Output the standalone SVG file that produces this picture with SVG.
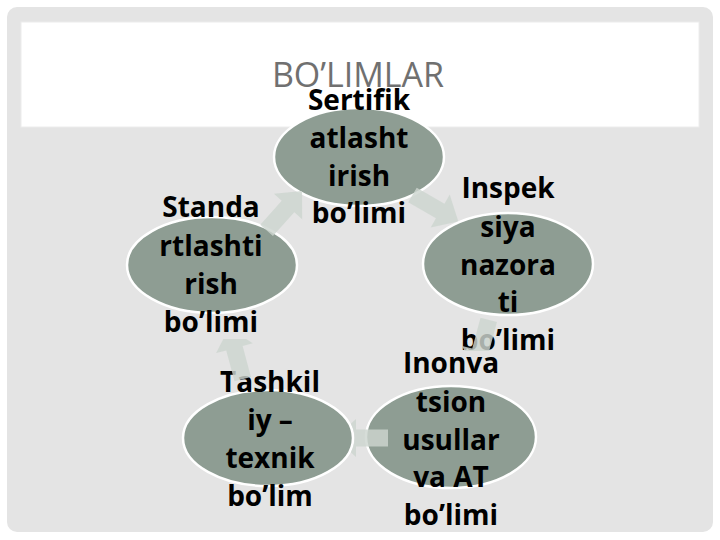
<svg xmlns="http://www.w3.org/2000/svg" width="720" height="540" viewBox="0 0 720 540">
<style>
.node{fill:#8e9d93;stroke:#ffffff;stroke-width:2.5}
.lbl{font-family:"Open Sans","Noto Sans","DejaVu Sans",sans-serif;font-weight:bold;font-size:28px;fill:#000000;text-anchor:middle}
.title{font-family:"Open Sans","Noto Sans","DejaVu Sans",sans-serif;font-size:34px;fill:#707070;text-anchor:middle}
.arr{fill:#cdd5d0;fill-opacity:0.82}
</style>
<defs>
<polygon id="arrowShape" points="-26,-8.5 6,-8.5 6,-19 27,0 6,19 6,8.5 -26,8.5"/>
<mask id="m1" maskUnits="userSpaceOnUse" x="0" y="0" width="720" height="540">
<rect x="0" y="0" width="720" height="540" fill="#fff"/>
<ellipse cx="508" cy="264" rx="86.5" ry="52.5" fill="#000"/>
</mask>
<mask id="m2" maskUnits="userSpaceOnUse" x="0" y="0" width="720" height="540">
<rect x="0" y="0" width="720" height="540" fill="#fff"/>
<ellipse cx="451" cy="437" rx="86.5" ry="52.5" fill="#000"/>
<rect x="402" y="351" width="98" height="26" fill="#000"/>
</mask>
<mask id="m3" maskUnits="userSpaceOnUse" x="0" y="0" width="720" height="540">
<rect x="0" y="0" width="720" height="540" fill="#fff"/>
<ellipse cx="268" cy="438" rx="86.5" ry="49.5" fill="#000"/>
</mask>
<mask id="m4" maskUnits="userSpaceOnUse" x="0" y="0" width="720" height="540">
<rect x="0" y="0" width="720" height="540" fill="#fff"/>
<ellipse cx="212" cy="265" rx="86.5" ry="49.5" fill="#000"/>
<rect x="162" y="311" width="100" height="28" fill="#000"/>
</mask>
</defs>

<rect x="0" y="0" width="720" height="540" fill="#ffffff"/>
<rect x="7" y="7" width="706" height="525" rx="10" fill="#e4e4e4"/>
<rect x="21" y="22" width="678" height="105" fill="#ffffff" stroke="#ececec" stroke-width="1"/>
<text class="title" x="358" y="87">BO’LIMLAR</text>

<g id="node-sertifikatlashtirish">
<ellipse class="node" cx="359" cy="157" rx="85" ry="49"/>
<text class="lbl" x="359" y="110">Sertifik</text>
<text class="lbl" x="359" y="148">atlasht</text>
<text class="lbl" x="359" y="186">irish</text>
<text class="lbl" x="359" y="223">bo’limi</text>
</g>

<g id="node-inspeksiya">
<ellipse class="node" cx="508" cy="264" rx="85" ry="51"/>
<text class="lbl" x="508" y="198">Inspek</text>
<text class="lbl" x="508" y="237">siya</text>
<text class="lbl" x="508" y="275">nazora</text>
<text class="lbl" x="508" y="312">ti</text>
<text class="lbl" x="508" y="350">bo’limi</text>
</g>

<g id="node-inonvatsion">
<ellipse class="node" cx="451" cy="437" rx="85" ry="51"/>
<text class="lbl" x="451" y="373">Inonva</text>
<text class="lbl" x="451" y="412">tsion</text>
<text class="lbl" x="451" y="450">usullar</text>
<text class="lbl" x="451" y="487">va AT</text>
<text class="lbl" x="451" y="525">bo’limi</text>
</g>

<g id="node-tashkiliy">
<ellipse class="node" cx="268" cy="438" rx="85" ry="48"/>
<text class="lbl" x="270" y="392">Tashkil</text>
<text class="lbl" x="270" y="430">iy –</text>
<text class="lbl" x="270" y="468">texnik</text>
<text class="lbl" x="270" y="506">bo’lim</text>
</g>

<g id="node-standartlashtirish">
<ellipse class="node" cx="212" cy="265" rx="85" ry="48"/>
<text class="lbl" x="211" y="217">Standa</text>
<text class="lbl" x="211" y="256">rtlashti</text>
<text class="lbl" x="211" y="294">rish</text>
<text class="lbl" x="211" y="332">bo’limi</text>
</g>

<g id="connectors">
<g mask="url(#m1)"><use href="#arrowShape" class="arr" transform="translate(435,208) rotate(30)"/></g>
<g mask="url(#m2)"><use href="#arrowShape" class="arr" transform="translate(482,345) rotate(105)"/></g>
<g mask="url(#m3)"><use href="#arrowShape" class="arr" transform="translate(362,438) rotate(180)"/></g>
<g mask="url(#m4)"><use href="#arrowShape" class="arr" transform="translate(236,354) rotate(-105)"/></g>
<use href="#arrowShape" class="arr" transform="translate(284,211) rotate(-48)"/>
</g>
</svg>
